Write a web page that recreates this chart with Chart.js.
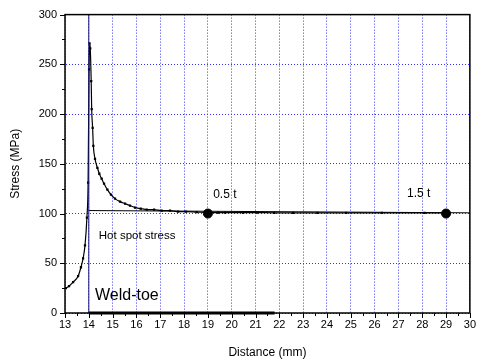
<!DOCTYPE html>
<html>
<head>
<meta charset="utf-8">
<script src="https://cdn.jsdelivr.net/npm/chart.js@4"></script>
<style>
  html, body { margin: 0; padding: 0; background: #fff; }
  #wrap { width: 481px; height: 360px; }
</style>
</head>
<body>
<div id="wrap"><canvas id="c" width="481" height="360"></canvas></div>
<script>
// stress along the distance from the plate edge
var distance = [13.04, 13.17, 13.34, 13.55, 13.67, 13.76, 13.84, 13.92, 13.97, 14.01, 14.03, 14.06,
    14.1, 14.12, 14.16, 14.19, 14.26, 14.36, 14.44, 14.54, 14.64, 14.78, 14.93, 15.1, 15.31, 15.52,
    15.73, 15.94, 16.18, 16.43, 16.74, 17.06, 17.41, 17.75, 18.08, 18.53, 19.0, 19.43, 19.72, 20.48,
    21.07, 21.78, 22.58, 23.6, 24.8, 26.3, 28.1, 29.0];
var stress = [25, 27, 31, 37, 46, 55, 68, 96, 131, 245, 271, 266,
    233, 205, 186, 168, 155, 146, 140, 135, 130, 124, 119, 115, 112, 110,
    108, 106, 105, 104, 104, 103, 103, 102, 102, 101.5, 101, 101, 101, 101,
    101, 100.7, 100.7, 100.7, 100.7, 100.7, 100.7, 100.7];

// read-out points at 0.5 t and 1.5 t
var readX = [19, 29];
var readY = [100, 100];

// hot spot stress line and the weld-toe marker line
var hotX = [14, 30];
var hotY = [103, 100.7];
var toeX = [14, 14];
var toeY = [0, 300];
var baseX = [14, 21.8];
var baseY = [0, 0];

var notes = [
    { text: 'Weld-toe', x: 14.26, y: 17, size: 16 },
    { text: 'Hot spot stress', x: 14.42, y: 78, size: 11.5 },
    { text: '0.5 t', x: 19.22, y: 119, size: 12 },
    { text: '1.5 t', x: 27.36, y: 120, size: 12 }
];

function pts(xs, ys) {
    return xs.map(function (x, i) { return { x: x, y: ys[i] }; });
}

var FONT = '"Liberation Sans", Arial, sans-serif';
var GRID = '#3333ff';
var NONE = 'rgba(0,0,0,0)';

function isMajor(v, step) {
    return Math.abs(v / step - Math.round(v / step)) < 1e-6;
}

// frame, outward major/minor ticks and text notes
var extras = {
    id: 'extras',
    afterDraw: function (chart) {
        var ctx = chart.ctx, a = chart.chartArea;
        var xs = chart.scales.x, ys = chart.scales.y;
        ctx.save();
        ctx.strokeStyle = '#000';
        ctx.lineWidth = 1;
        xs.ticks.forEach(function (t) {
            var px = Math.round(xs.getPixelForValue(t.value)) + 0.5;
            var len = isMajor(t.value, 1) ? 5 : 3;
            ctx.beginPath();
            ctx.moveTo(px, a.bottom);
            ctx.lineTo(px, a.bottom + len);
            ctx.stroke();
        });
        ys.ticks.forEach(function (t) {
            var py = Math.round(ys.getPixelForValue(t.value)) + 0.5;
            var len = isMajor(t.value, 50) ? 5 : 3;
            ctx.beginPath();
            ctx.moveTo(a.left, py);
            ctx.lineTo(a.left - len, py);
            ctx.stroke();
        });
        ctx.lineWidth = 1.5;
        ctx.strokeRect(a.left, a.top, a.right - a.left, a.bottom - a.top);

        ctx.fillStyle = '#000';
        ctx.textBaseline = 'middle';
        ctx.textAlign = 'left';
        notes.forEach(function (n) {
            ctx.font = n.size + 'px ' + FONT;
            ctx.fillText(n.text, xs.getPixelForValue(n.x), ys.getPixelForValue(n.y));
        });
        ctx.restore();
    }
};

new Chart(document.getElementById('c'), {
    type: 'scatter',
    data: {
        datasets: [
            {
                data: pts(toeX, toeY),
                showLine: true,
                borderColor: '#14146e',
                borderWidth: 1,
                pointRadius: 0
            },
            {
                data: pts(hotX, hotY),
                showLine: true,
                borderColor: '#000',
                borderWidth: 1,
                pointRadius: 0
            },
            {
                data: pts(distance, stress),
                showLine: true,
                cubicInterpolationMode: 'monotone',
                borderColor: '#000',
                borderWidth: 1.2,
                pointStyle: 'rect',
                pointRadius: 1.6,
                pointBackgroundColor: '#000',
                pointBorderWidth: 0
            },
            {
                data: pts(readX, readY),
                borderColor: '#000',
                backgroundColor: '#000',
                pointRadius: 4.5
            },
            {
                data: pts(baseX, baseY),
                showLine: true,
                borderColor: '#000',
                borderWidth: 3,
                pointRadius: 0,
                clip: false
            }
        ]
    },
    options: {
        responsive: false,
        animation: false,
        events: [],
        layout: { padding: { top: 13, right: 11, left: 0, bottom: 0 } },
        plugins: {
            legend: { display: false },
            tooltip: { enabled: false }
        },
        scales: {
            x: {
                type: 'linear',
                min: 13,
                max: 30,
                afterFit: function (s) { s.height = 47; },
                ticks: {
                    stepSize: 0.5,
                    autoSkip: false,
                    maxRotation: 0,
                    padding: 5,
                    color: '#000',
                    font: { family: FONT, size: 11 },
                    callback: function (v) { return isMajor(v, 1) ? v : ''; }
                },
                grid: {
                    drawTicks: false,
                    lineWidth: 1,
                    color: function (c) { return c.tick && isMajor(c.tick.value, 1) ? GRID : NONE; }
                },
                border: { display: true, color: NONE, dash: [1, 2] },
                title: {
                    display: true,
                    text: 'Distance (mm)',
                    color: '#000',
                    font: { family: FONT, size: 12 },
                    padding: { top: 4, bottom: 0 }
                }
            },
            y: {
                min: 0,
                max: 300,
                afterFit: function (s) { s.width = 65; },
                ticks: {
                    stepSize: 25,
                    autoSkip: false,
                    padding: 8,
                    color: '#000',
                    font: { family: FONT, size: 11 },
                    callback: function (v) { return isMajor(v, 50) ? v : ''; }
                },
                grid: {
                    drawTicks: false,
                    lineWidth: 1,
                    color: function (c) { return c.tick && isMajor(c.tick.value, 50) ? GRID : NONE; }
                },
                border: { display: true, color: NONE, dash: [1, 2] },
                title: {
                    display: true,
                    text: 'Stress (MPa)',
                    color: '#000',
                    font: { family: FONT, size: 12 },
                    padding: { top: 8, bottom: 0 }
                }
            }
        }
    },
    plugins: [extras]
});
</script>
</body>
</html>
